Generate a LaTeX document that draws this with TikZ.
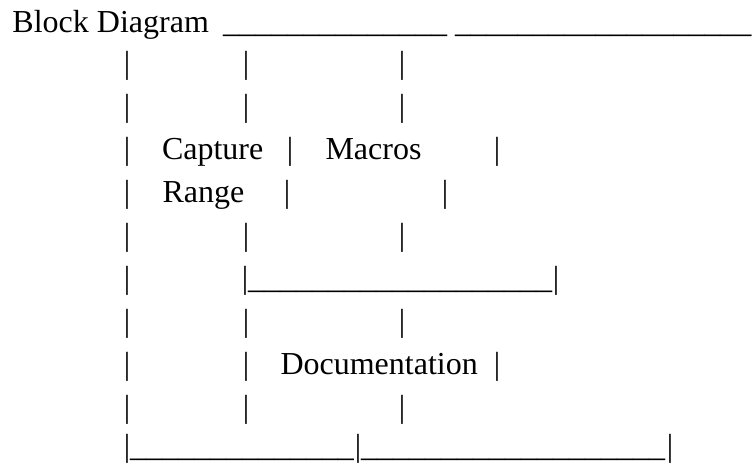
\documentclass[tikz,border=0pt]{standalone}
\usepackage{fontspec}
\setmainfont{Liberation Serif}

\newcommand{\ulrun}[1]{\foreach \i in {1,...,#1}{\_}}

\begin{document}
\begin{tikzpicture}[
    x=1pt, y=-1pt,
    every node/.style={inner sep=0pt, outer sep=0pt, font=\fontsize{32}{38}\selectfont},
    txt/.style={anchor=base west},
    bar/.style={anchor=base}
]
\useasboundingbox (0,0) rectangle (753,463);

% ----- title row -----
\node[txt] (title) at (12.5,32) {Block Diagram};
\node[txt] (top1) at (223,32) {\ulrun{14}};
\node[txt, xscale=0.975] (top2) at (455,32) {\ulrun{19}};

% ----- plain pipe rows -----
\foreach \r in {1,2,5,7,9}
  \foreach \x [count=\c] in {127,246,402}
    \node[bar] (p\r-\c) at ({\x},{30+43*\r}) {|};

% ----- row 3 -----
\node[bar] (p3-1) at (127,159) {|};
\node[txt] (cap) at (162,159) {Capture};
\node[bar] (p3-2) at (290,159) {|};
\node[txt] (mac) at (325.5,159) {Macros};
\node[bar] (p3-3) at (497,159) {|};

% ----- row 4 -----
\node[bar] (p4-1) at (127,202) {|};
\node[txt] (rng) at (162.5,202) {Range};
\node[bar] (p4-2) at (287,202) {|};
\node[bar] (p4-3) at (445,202) {|};

% ----- row 6 -----
\node[bar] (p6-1) at (127,288) {|};
\node[bar] (p6-2) at (245,288) {|};
\node[txt] (mid) at (248,288) {\ulrun{19}};
\node[bar] (p6-3) at (556,288) {|};

% ----- row 8 -----
\node[bar] (p8-1) at (127,374) {|};
\node[bar] (p8-2) at (246,374) {|};
\node[txt] (doc) at (280.5,374) {Documentation};
\node[bar] (p8-3) at (497,374) {|};

% ----- bottom row -----
\node[bar] (p10-1) at (127,456) {|};
\node[txt] (bot1) at (130,456) {\ulrun{14}};
\node[bar] (p10-2) at (358,456) {|};
\node[txt] (bot2) at (361,456) {\ulrun{19}};
\node[bar] (p10-3) at (670,456) {|};

\end{tikzpicture}
\end{document}
